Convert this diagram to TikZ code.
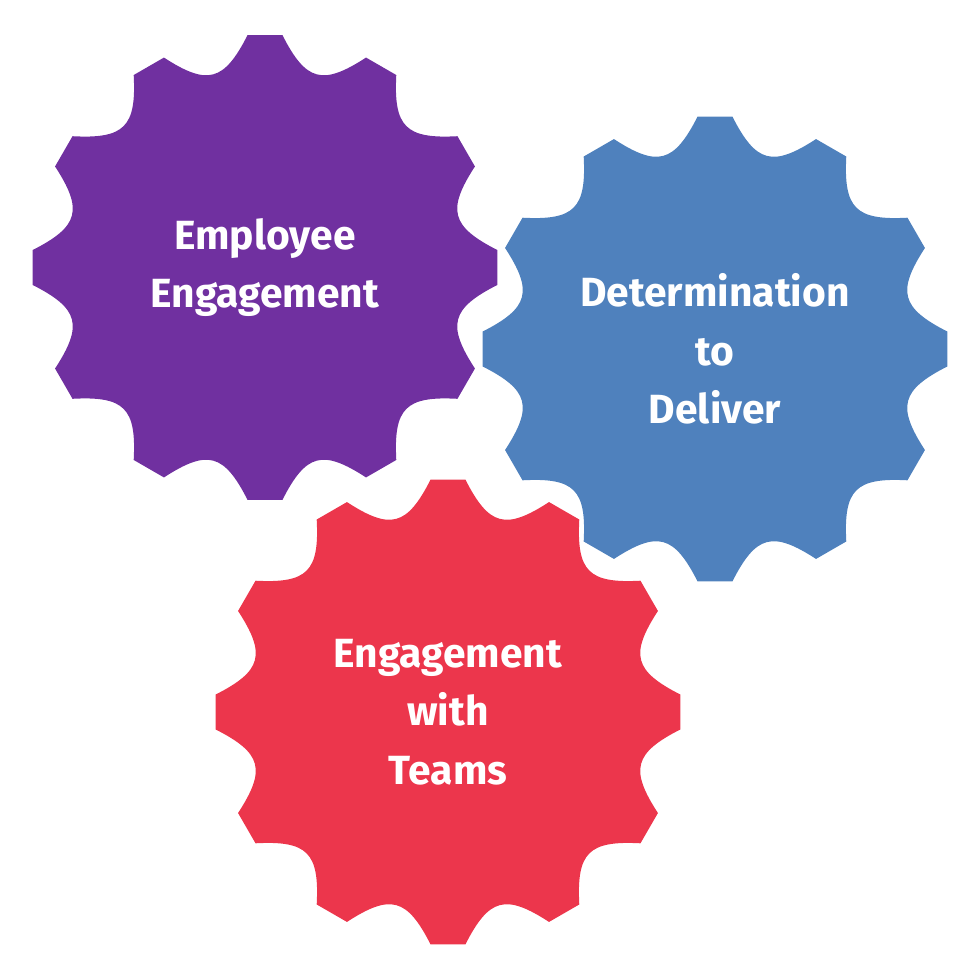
\documentclass[tikz,border=0pt]{standalone}
\usepackage{fontspec}
\setmainfont{Fira Sans}
\usepackage{tikz}
\usepackage{xcolor}
\definecolor{gearpurple}{RGB}{112,48,160}
\definecolor{gearblue}{RGB}{79,129,189}
\definecolor{gearred}{RGB}{236,54,76}

\tikzset{
  gear/.style={fill=#1, draw=none},
  geartext/.style={text=white, align=center, font=\bfseries\fontsize{11.6}{16.6}\selectfont}
}

\begin{document}
\begin{tikzpicture}
  \useasboundingbox (0,0) rectangle (9.8,9.8);
  % twelve flat tips, U-shaped notches between them
  \foreach \cx/\cy/\col in {2.65/7.125/gearpurple, 7.15/6.31/gearblue, 4.48/2.68/gearred}{
    \fill[gear=\col, shift={(\cx,\cy)}] (-4.3:2.33)
      \foreach \a in {0,30,...,330}{
        -- (\a+4.3:2.33) .. controls (\a+12.44:1.905) and (\a+17.56:1.905) .. (\a+25.7:2.33)
      } -- cycle;
  }
  \node[geartext] (emp) at (2.65,7.125) {Employee\\Engagement};
  \node[geartext] (det) at (7.15,6.31) {Determination\\to\\Deliver};
  \node[geartext] (team) at (4.48,2.68) {Engagement\\with\\Teams};
\end{tikzpicture}
\end{document}
